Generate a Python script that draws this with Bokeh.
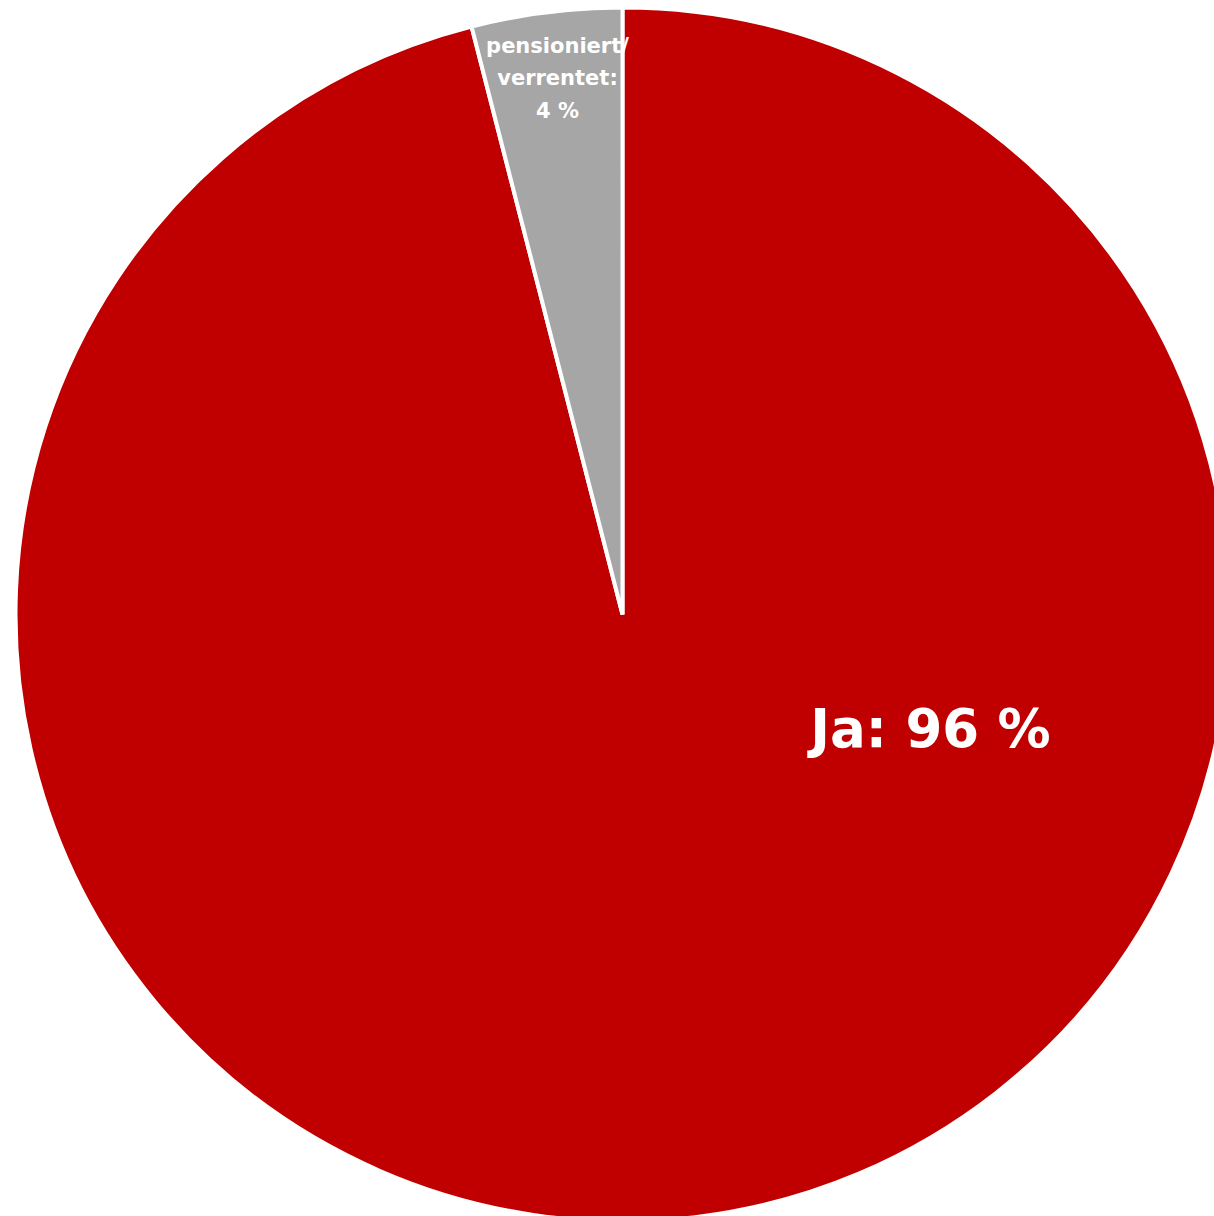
import math
from bokeh.plotting import figure
from bokeh.models import ColumnDataSource, Range1d
from bokeh.core.properties import value
from bokeh.embed import file_html
from bokeh.resources import INLINE

# ---- data ----
categories = ["Ja", "pensioniert/\nverrentet"]
shares = [96, 4]
colors = ["#C00000", "#A6A6A6"]

# ---- layout constants ----
W, H = 1214, 1216
CX, CY, R = 622, 602, 607

# gray slice starts at 12 o'clock going counter-clockwise, Ja takes the rest
total = sum(shares)
starts, ends = [], []
a = math.pi / 2
for s in reversed(shares):
    starts.append(a)
    a += 2 * math.pi * s / total
    ends.append(a)
starts = list(reversed(starts))
ends = list(reversed(ends))

src = ColumnDataSource(dict(x=[CX] * len(shares), y=[CY] * len(shares),
                            start=starts, end=ends, color=colors))

p = figure(width=W, height=H, output_backend="svg", toolbar_location=None,
           x_range=Range1d(0, W), y_range=Range1d(0, H), min_border=0)
p.axis.visible = False
p.grid.visible = False
p.outline_line_color = None
p.background_fill_color = "white"
p.border_fill_color = "white"

p.wedge(x="x", y="y", radius=R, start_angle="start", end_angle="end",
        fill_color="color", line_color="white", line_width=4, source=src)

labels = [f"{c}: {v} %" if i == 0 else f"{c}:\n{v} %" for i, (c, v) in enumerate(zip(categories, shares))]

# Ja label
p.text(x=[930], y=[488], text=[labels[0]], text_font=value("DejaVu Sans"),
       text_font_style="bold", text_font_size="53px", text_color="white",
       text_align="center", text_baseline="middle")
# small label
p.text(x=[557], y=[1138], text=[labels[1]], text_font=value("DejaVu Sans"),
       text_font_style="bold", text_font_size="21px", text_color="white",
       text_align="center", text_baseline="middle", text_line_height=1.35)

open("out.html", "w").write(file_html(p, INLINE))
